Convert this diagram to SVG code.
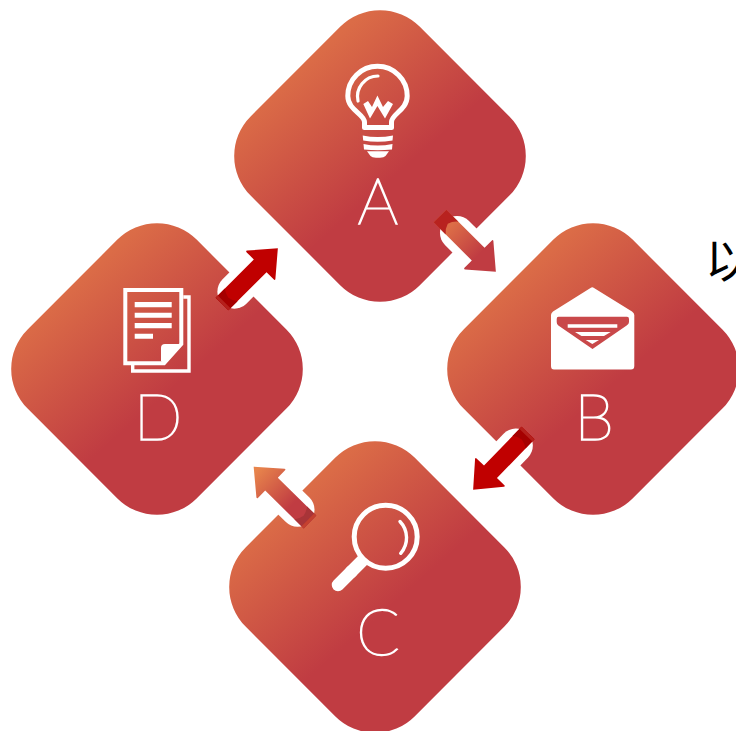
<svg xmlns="http://www.w3.org/2000/svg" width="736" height="731" viewBox="0 0 736 731">
<style>
.d{fill:url(#dg)}
.l{font-family:"Lato","Liberation Sans",sans-serif;font-weight:100;font-size:64px;fill:#fff;stroke:#fff;stroke-width:1.500px;text-anchor:middle}
.w{fill:#fff}
.s{fill:none;stroke:#fff}
</style>
<defs>
<linearGradient id="dg" x1="0" y1=".5" x2=".6" y2=".54"><stop offset="0" stop-color="#DB6C47"/><stop offset="1" stop-color="#C03C42"/></linearGradient>
<linearGradient id="ag1" gradientUnits="userSpaceOnUse" x1="15" y1="0" x2="55" y2="0"><stop offset="0" stop-color="#DC6D47"/><stop offset="1" stop-color="#C03C42"/></linearGradient>
<linearGradient id="ag3" gradientUnits="userSpaceOnUse" x1="75" y1="0" x2="25" y2="0"><stop offset="0" stop-color="#E8854C"/><stop offset="1" stop-color="#C03C42"/></linearGradient>
<path id="cap1" d="M24-17H44V17H24A17 17 0 0 1 24-17Z" fill="#fff"/>
<path id="cap2" d="M17.500-17H44V17H17.500A17 17 0 0 1 17.500-17Z" fill="#fff"/>
<path id="arr" d="M0-9H54V-19Q54-21 55.500-20L79 0L55.500 20Q54 21 54 19V9H0Z"/>
<path id="tail1" d="M0-9H17A18 18 0 0 0 11 0A18 18 0 0 0 17 9H0Z"/>
<path id="tail2" d="M0-9H13A20 20 0 0 0 9 0A20 20 0 0 0 13 9H0Z"/>
<path id="end" d="M0-9H3V9H0Z"/>
<rect id="dm" class="d" x="-119.500" y="-119.500" width="239" height="239" rx="56" transform="rotate(45)"/>
</defs>
<g id="node-A" transform="translate(380 156)"><use href="#dm"/></g>
<g id="icon-A">
<path class="s" stroke-width="5" stroke-linejoin="round" d="M364.500 127.500V122C364.500 114 347.800 110 347.800 96A29.700 29.700 0 0 1 407.200 96C407.200 110 391.500 114 391.500 122V127.500Z"/>
<path class="s" stroke-width="3.200" stroke-linecap="round" d="M358 101A20.500 20.500 0 0 1 378 76"/>
<path class="w" d="M363.300 104L368 101L372 107L377.400 95.500L383 107L388 101L393 104L385 118.500L377.400 106L370 118.500Z"/>
<path class="w" d="M362.700 135.500Q377.500 138.500 393 135.500L392.500 140.500Q377.500 143 363.200 140.500Z"/>
<path class="w" d="M363.500 144Q377.500 147 392.500 144L392 149.500Q377.500 151 364 149.500Z"/>
<path class="w" d="M367 151.300H389L385.500 156Q384 157.700 380 157.700H376Q372 157.700 370.500 156Z"/>
<text class="l" x="378" y="224">A</text>
</g>
<g id="node-B" transform="translate(593 369)"><use href="#dm"/></g>
<g id="icon-B">
<path class="w" d="M590.500 288Q592.300 286.600 594 288L632 311.500Q634.300 313 634.300 315V366Q634.300 369.500 631 369.500H554Q551 369.500 551 366V315Q551 313 553 311.500Z"/>
<path d="M558.500 316.700H627Q629 316.700 629 319V322Q629 324 627 325.300L592.500 349L558 325.300Q556.700 324 556.700 322V319Q556.700 316.700 558.500 316.700Z" fill="#C9484A"/>
<path class="w" d="M567.700 324.300H617.300V327.700H567.700ZM575 332H610.700L604 336H581.500ZM585.700 340H599L592.300 344Z"/>
<text class="l" x="594" y="440">B</text>
</g>
<g id="node-C" transform="translate(375 587)"><use href="#dm"/></g>
<g id="icon-C">
<circle class="s" cx="385.700" cy="536.700" r="31.500" stroke-width="5"/>
<path class="s" stroke-width="3.400" stroke-linecap="round" d="M400 521.500A23.500 23.500 0 0 1 400.700 553.300"/>
<path class="s" stroke-width="12.500" stroke-linecap="round" d="M338 585L352 571"/>
<path class="s" stroke-width="12.500" d="M350 573L364 559"/>
<text class="l" x="378" y="655">C</text>
</g>
<g id="node-D" transform="translate(157 369)"><use href="#dm"/></g>
<g id="icon-D">
<path class="s" stroke-width="4" d="M181.300 340V290H125.300V363.300H164L181.300 344Z"/>
<path class="s" stroke-width="3.400" d="M183.300 297H189V371H132.700V365"/>
<path class="w" d="M161 361V348Q161 344 165 344H181L164.500 362H162Z"/>
<path class="w" d="M134.700 302H171.700V307.300H134.700ZM134.700 312.700H171.700V317.700H134.700ZM134.700 323H171.700V328.300H134.700ZM134.700 333.700H153V338.700H134.700Z"/>
<text class="l" x="158" y="440">D</text>
</g>
<g id="connectors">
<g id="a-b" transform="translate(440 216) rotate(45)"><use href="#cap1"/><use href="#arr" fill="url(#ag1)"/><use href="#tail1" fill="#B8221F"/></g>
<g id="b-c" transform="translate(528 433) rotate(134)"><use href="#cap2"/><use href="#arr" fill="#C00000"/><use href="#tail2" fill="#A50000"/><use href="#end" fill="#B5201C"/></g>
<g id="c-d" transform="translate(310 522) rotate(224.500)"><use href="#cap2"/><use href="#arr" fill="url(#ag3)"/><use href="#tail2" fill="#A83438"/><use href="#end" fill="#C5402F"/></g>
<g id="d-a" transform="translate(222 304) rotate(-45)"><use href="#cap2"/><use href="#arr" fill="#C00000"/><use href="#tail2" fill="#A50000"/><use href="#end" fill="#B5201C"/></g>
</g>
<text x="705" y="277" font-family="'Noto Sans CJK SC',sans-serif" font-size="47" fill="#000">以</text>
</svg>
